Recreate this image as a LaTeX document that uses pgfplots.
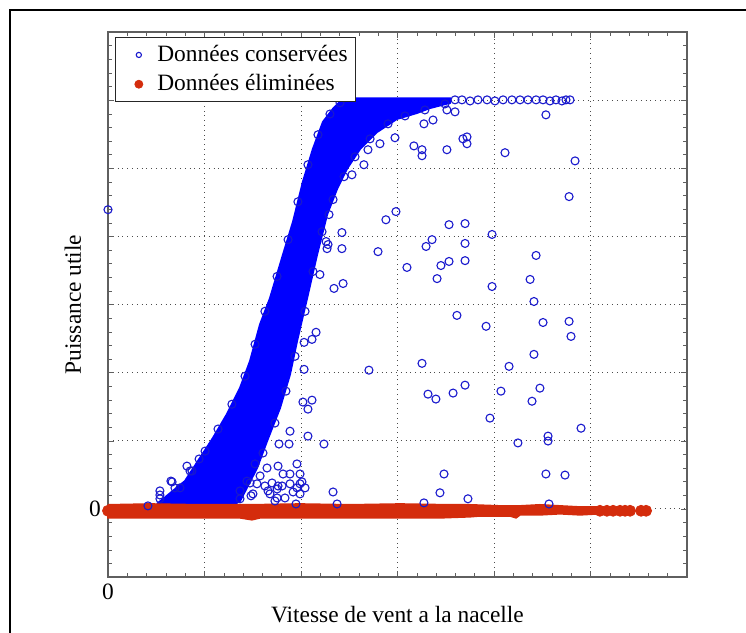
\documentclass[border=0pt]{standalone}
\usepackage{pgfplots}
\pgfplotsset{compat=1.18}
\usepackage{fontspec}
\setmainfont{Liberation Serif}
\definecolor{conserv}{RGB}{0,0,255}
\definecolor{cercle}{RGB}{25,25,205}
\definecolor{elim}{RGB}{212,44,12}
\definecolor{axegris}{RGB}{95,95,95}

\begin{document}
\begin{tikzpicture}
\path[use as bounding box] (-54pt,-28pt) rectangle (319pt,288.5pt);
% cadre exterieur
\draw[line width=1pt] (-49pt,-40pt) -- (-49pt,283.5pt) -- (330pt,283.5pt);
\begin{axis}[
  scale only axis, width=289.5pt, height=272.5pt,
  xmin=0, xmax=30, ymin=-250, ymax=1750,
  xtick={0,5,...,30}, xticklabels={0,,,,,,},
  ytick={-250,0,...,1750}, yticklabels={,0,,,,,,,},
  minor x tick num=4, minor y tick num=4,
  tick align=inside, major tick length=3pt, minor tick length=2pt,
  tick style={axegris}, axis line style={axegris, line width=0.8pt},
  grid=major, major grid style={dotted, gray!60!black},
  every tick label/.append style={font=\fontsize{11.7}{14}\selectfont},
  label style={font=\fontsize{11.7}{14}\selectfont},
  xlabel={Vitesse de vent a la nacelle},
  ylabel={Puissance utile},
  xlabel style={at={(axis description cs:0.5,-0.0826)}, anchor=base},
  ylabel style={at={(axis description cs:-0.0605,0.5)}, anchor=center, rotate=0},
  legend style={at={(0.012,0.991)}, anchor=north west, draw=black!85, fill=white,
    font=\fontsize{11.7}{14}\selectfont, inner sep=2pt, row sep=1pt},
  legend cell align=left,
  legend image code/.code={\path[draw=none, fill=none] (0pt,0pt) -- (17pt,0pt);
    \draw[#1] plot coordinates {(9.75pt,0pt)};},
  clip=false,
]
% nuage dense des donnees conservees
\addplot[draw=conserv, fill=conserv, line width=1pt, forget plot] coordinates {
(2.54,18) (3.99,102) (4.77,187) (5.44,260) (6.17,348) (6.84,443) (7.36,542)
(7.88,677) (8.39,772) (9.07,933) (9.59,1054) (10.10,1200) (10.62,1321)
(11.14,1420) (11.66,1468) (12.18,1506) (17.72,1506) (17.72,1490) (16.68,1471)
(16.01,1453) (14.97,1431) (13.94,1383) (13.06,1321) (12.38,1248) (11.87,1175)
(11.35,1080) (10.83,933) (10.31,772) (9.79,615) (9.43,494) (8.91,370)
(8.24,249) (7.72,150) (6.84,29) (6.58,18) (2.54,18)
};
% donnees conservees (points isoles)
\addplot[only marks, mark=o, mark size=2pt, cercle, mark options={line width=0.55pt},
  legend image post style={mark size=1.3pt}] coordinates {
(23.89,1146) (14.92,1091) (14.40,1061) (17.67,1043) (18.50,1047) (12.12,1014)
(12.12,955) (19.90,1007) (16.79,988) (16.48,963) (18.50,974) (13.99,944)
(22.18,930) (17.25,893) (17.67,908) (18.50,911) (15.49,886) (17.05,845)
(21.87,842) (12.18,827) (19.90,816) (22.07,761) (18.08,710) (19.59,670)
(22.54,684) (23.89,688) (23.99,633) (22.07,567) (16.27,534) (20.78,523)
(13.52,509) (18.50,454) (16.58,421) (16.99,403) (17.88,425) (20.36,432)
(22.38,443) (21.97,395) (19.79,333) (24.51,296) (21.24,242) (22.80,267)
(22.80,249) (17.41,128) (22.69,128) (23.68,124) (17.20,59) (18.65,37)
(16.37,22) (22.85,18) (22.69,1446) (24.20,1277) (20.57,1307) (18.60,1340)
(18.60,1365) (18.39,1358) (17.56,1318) (16.37,1413) (16.84,1427) (15.85,1332)
(16.27,1318) (16.27,1296) (17.56,1464) (17.98,1457) (14.87,1362) (14.09,1340)
(13.47,1318) (13.26,1263) (12.64,1226) (11.45,1080) (11.30,981) (11.35,955)
(11.71,809) (10.98,860) (11.40,970) (0,1098)
(10.78,648) (10.57,622) (10.16,611) (10.16,512) (10.10,392) (10.57,399)
(10.36,366) (10.36,267) (11.19,238) (9.38,238) (9.43,285) (8.86,238)
(8.81,157) (9.07,128) (9.79,165) (9.95,128) (10.05,99) (10.21,77)
(9.59,62) (9.02,84) (8.50,95) (8.24,150) (7.62,165) (7.88,121)
(8.13,84) (7.72,92) (7.20,102) (6.84,66) (7.51,55) (8.39,55)
(8.65,29) (9.17,40) (9.95,55) (11.66,62) (11.87,18) (4.09,157)
(4.35,139) (3.26,102) (2.69,66) (2.69,51) (4.72,183) (3.73,77)
(2.07,11) (3.32,99) (7.41,48) (8.81,84) (9.43,128) (9.95,92)
(9.74,18) (8.76,40) (8.29,66) (9.43,92) (9.79,77) (8.76,73)
(17.98,1501) (18.34,1501) (18.76,1497) (19.17,1501) (19.64,1501) (20.05,1497)
(20.47,1501) (20.93,1501) (21.35,1501) (21.76,1501) (22.18,1501) (22.54,1501)
(22.90,1497) (23.21,1501) (23.52,1497) (23.73,1501) (23.94,1501)
(2.69,37) (3.47,77) (4.25,139) (5.03,212) (5.70,293) (6.42,384) (7.10,487)
(7.62,604) (8.13,725) (8.76,853) (9.33,988) (9.84,1127) (10.36,1263)
(10.88,1373) (11.50,1449) (12.02,1490)
(17.46,1486) (16.42,1464) (15.39,1442) (14.51,1413) (13.58,1358) (12.80,1292)
(12.23,1219) (11.66,1135) (11.09,1017) (10.62,871) (10.21,725) (9.69,560)
(9.22,432) (8.65,315) (8.03,205) (7.36,95) (6.84,37)
};
\addlegendentry{Données conservées}
% bande des donnees eliminees
\addplot[draw=elim, fill=elim, line width=0.8pt, forget plot] coordinates {
(0,15) (2.18,18) (4.77,15) (7.36,15) (9.95,18) (12.54,15) (15.13,18)
(17.72,15) (18.76,15) (20.31,11) (21.35,11) (22.38,15) (23.42,11) (24.46,7)
(25.49,7) (25.49,-18) (24.46,-22) (23.42,-18) (22.38,-22) (21.35,-22)
(21.14,-33) (20.83,-26) (19.27,-26) (18.76,-29) (17.20,-33) (15.13,-33)
(12.54,-33) (9.95,-33) (7.88,-33) (7.46,-40) (6.84,-33) (4.77,-33)
(2.18,-33) (0,-33) (0,15)
};
% donnees eliminees (points)
\addplot[only marks, mark=*, mark size=2.75pt, elim, mark options={draw=elim, fill=elim},
  legend image post style={mark size=2pt}] coordinates {
(0,-7) (25.49,-7) (25.85,-7) (26.17,-7) (26.53,-7) (26.79,-7) (27.05,-7)
(27.62,-7) (27.88,-7)
};
\addlegendentry{Données éliminées}
\end{axis}
\end{tikzpicture}
\end{document}
